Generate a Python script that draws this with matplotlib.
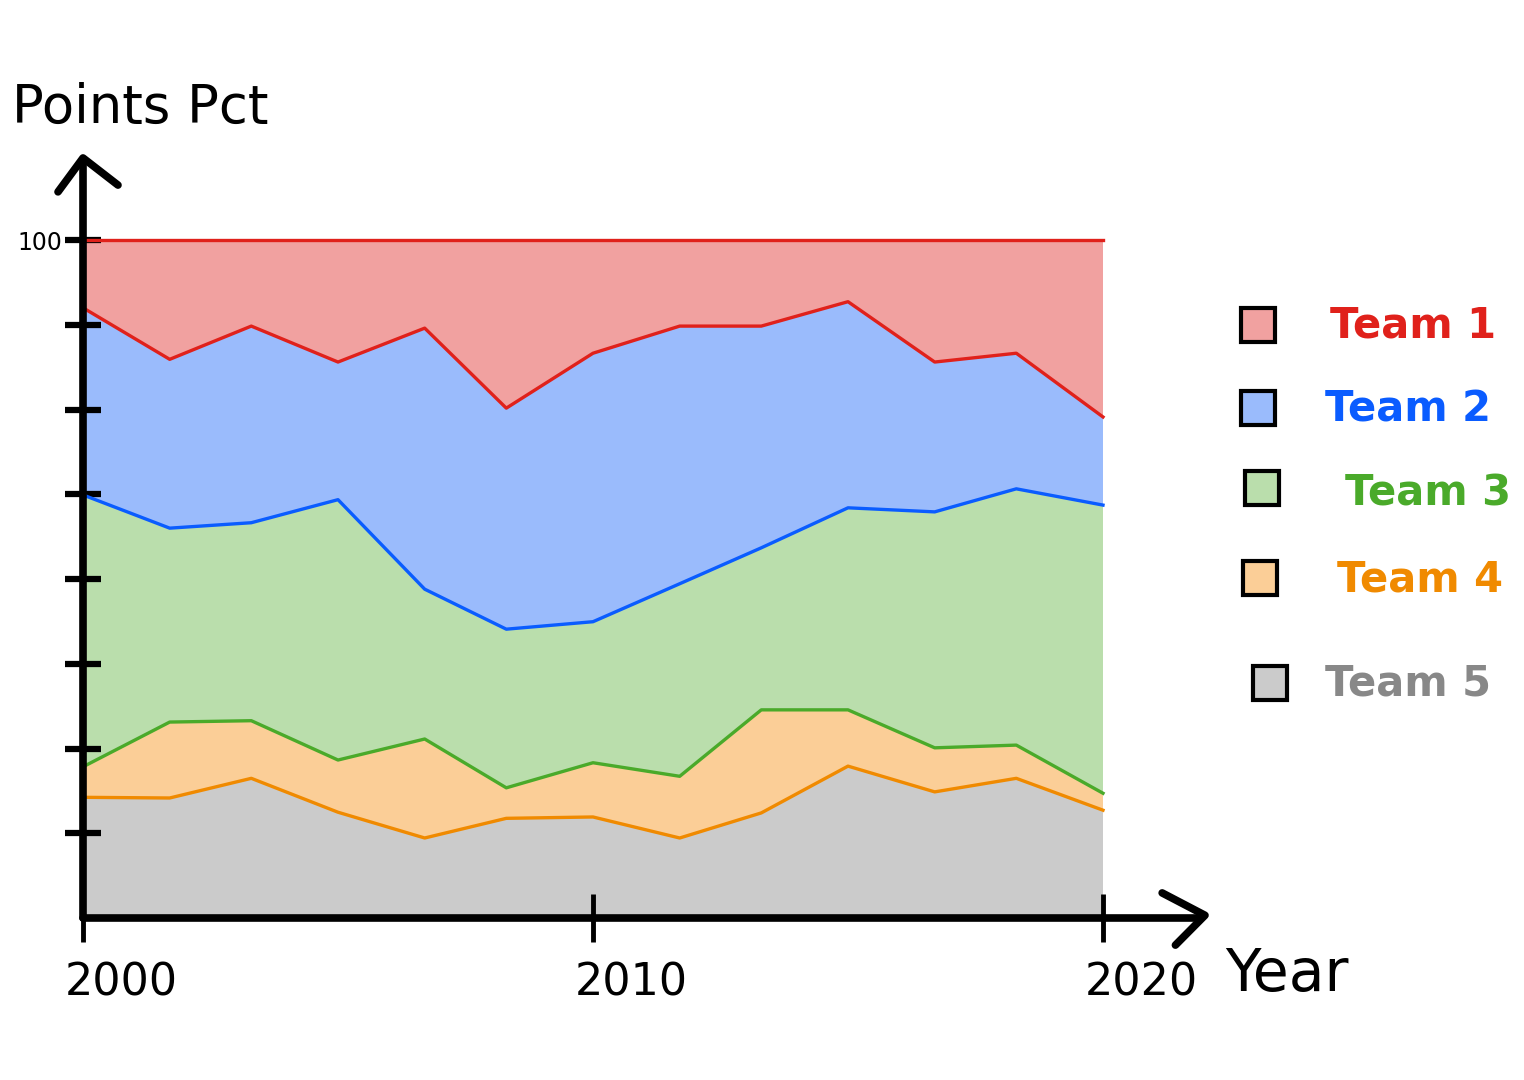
import numpy as np
import matplotlib
matplotlib.use("Agg")
import matplotlib.pyplot as plt
from matplotlib.patches import Rectangle
from matplotlib.transforms import ScaledTranslation

# ---- data ----
years = [2000, 2001.7, 2003.3, 2005, 2006.7, 2008.3, 2010, 2011.7, 2013.3, 2015, 2016.7, 2018.3, 2020]
team1 = [10.0, 17.6, 12.7, 18.0, 13.0, 24.8, 16.7, 12.7, 12.7, 9.1, 18.0, 16.7, 26.1]
team2 = [27.6, 24.9, 29.0, 20.3, 38.5, 32.6, 39.6, 38.0, 32.7, 30.4, 22.1, 20.0, 13.0]
team3 = [40.1, 28.6, 29.2, 38.4, 22.1, 23.4, 20.8, 28.4, 23.9, 29.8, 34.8, 37.8, 42.5]
team4 = [4.5, 11.2, 8.5, 7.7, 14.6, 4.5, 8.0, 9.1, 15.2, 8.3, 6.5, 4.9, 2.5]
team5 = [17.8, 17.7, 20.6, 15.6, 11.8, 14.7, 14.9, 11.8, 15.5, 22.4, 18.6, 20.6, 15.9]

team_names = ["Team 1", "Team 2", "Team 3", "Team 4", "Team 5"]
fill_colors = ["#f1a1a0", "#9abbfc", "#badeac", "#fbce97", "#cbcbcb"]
line_colors = ["#e0211b", "#0a5cff", "#4aaa2a", "#f08a00", "#888888"]
x_ticks = [2000, 2010, 2020]
x_tick_labels = ["2000", "2010", "2020"]
y_ticks = [12.5, 25, 37.5, 50, 62.5, 75, 87.5, 100]
y_tick_labels = ["", "", "", "", "", "", "", "100"]

W, H = 1524, 1080
fig = plt.figure(figsize=(W / 100, H / 100), dpi=100)
ax = fig.add_axes([83 / W, 1 - 918 / H, 1020 / W, 678 / H])
ax.set_xlim(2000, 2020)
ax.set_ylim(0, 100)

series = [team5, team4, team3, team2, team1]
ax.stackplot(years, *series, colors=fill_colors[::-1], linewidth=0)

# boundary lines: each team's line sits at its lower edge, plus top line
c5 = np.array(team5)
c4 = c5 + np.array(team4)
c3 = c4 + np.array(team3)
c2 = c3 + np.array(team2)
c1 = c2 + np.array(team1)
for yv, col in [(c5, line_colors[3]), (c4, line_colors[2]), (c3, line_colors[1]),
                (c2, line_colors[0]), (c1, line_colors[0])]:
    ax.plot(years, yv, color=col, lw=2.4, clip_on=False)

for s in ax.spines.values():
    s.set_visible(False)

# hand-drawn style axes with arrows
def seg(xs, ys, lw=5.5):
    ax.plot(xs, ys, transform=ax.transAxes, clip_on=False, color="black",
            lw=lw, solid_capstyle="round", solid_joinstyle="round")

seg([0, 0], [0, 1.118])
seg([-0.0245, 0, 0.0343], [1.071, 1.121, 1.081])
seg([0, 1.093], [0, 0])
seg([1.058, 1.1, 1.071], [0.037, 0.004, -0.04])

ax.set_yticks(y_ticks)
ax.set_yticklabels(y_tick_labels)
ax.tick_params(axis="y", direction="inout", length=26, width=4.5, color="black",
               labelsize=17, pad=2)
ax.set_xticks(x_ticks)
ax.set_xticklabels(x_tick_labels)
ax.tick_params(axis="x", direction="inout", length=34, width=3.5, color="black",
               labelsize=32, pad=14)
for lab in ax.get_xticklabels():
    lab.set_transform(lab.get_transform() + ScaledTranslation(0.38, 0, fig.dpi_scale_trans))

fig.text(12 / W, 1 - 108 / H, "Points Pct", fontsize=38, ha="left", va="center")
fig.text(1287 / W, 1 - 975 / H, "Year", fontsize=42, ha="center", va="center")

# legend drawn by hand
sq_centers = [(1258, 325), (1258, 408), (1262, 488), (1260, 578), (1270, 683)]
txt_pos = [(1330, 325), (1325, 410), (1345, 493), (1337, 580), (1325, 683)]
sq = 34
for i in range(5):
    cx, cy = sq_centers[i]
    fig.add_artist(Rectangle(((cx - sq / 2) / W, 1 - (cy + sq / 2) / H), sq / W, sq / H,
                             transform=fig.transFigure, facecolor=fill_colors[i],
                             edgecolor="black", lw=3))
    tx, ty = txt_pos[i]
    fig.text(tx / W, 1 - ty / H, team_names[i], color=line_colors[i], fontsize=30,
             ha="left", va="center", fontweight="bold")

fig.savefig("out.png", dpi=100, facecolor="white")
